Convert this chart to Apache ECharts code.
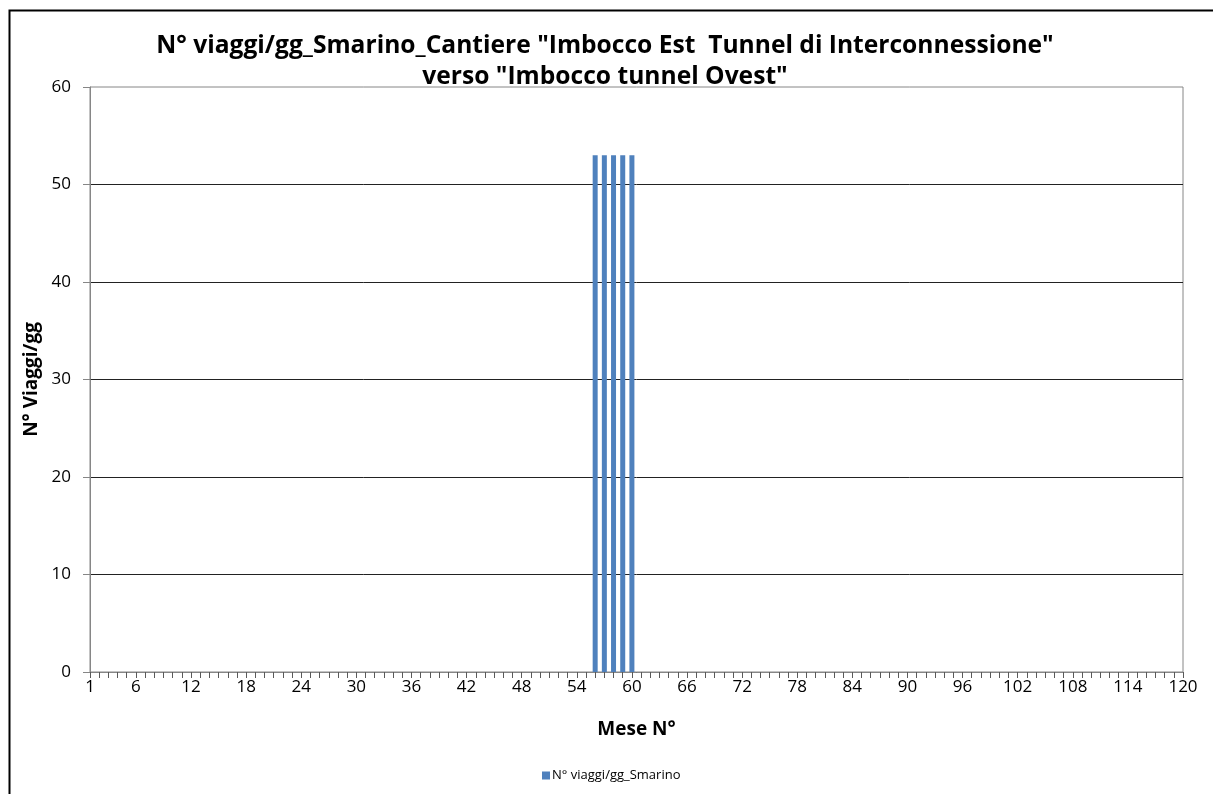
<!DOCTYPE html>
<html>
<head>
<meta charset="utf-8">
<script src="https://cdn.jsdelivr.net/npm/echarts@6/dist/echarts.min.js"></script>
<style>
  html, body { margin: 0; padding: 0; background: #fff; }
  #chart { width: 1213px; height: 794px; }
</style>
</head>
<body>
<div id="chart"></div>
<script>
// Months 1..120
const months = [];
for (let m = 1; m <= 120; m++) months.push(String(m));

// Daily trips (spoil removal) per month: active only in months 56-60
const activeMonths = [56, 57, 58, 59, 60];
const activeTrips = [53, 53, 53, 53, 53];

const trips = months.map(function (m) {
  const i = activeMonths.indexOf(Number(m));
  return i >= 0 ? activeTrips[i] : 0;
});

const titleLines = [
  'N° viaggi/gg_Smarino_Cantiere "Imbocco Est  Tunnel di Interconnessione"',
  'verso "Imbocco tunnel Ovest"'
];
const seriesName = 'N° viaggi/gg_Smarino';
const yAxisTitle = 'N° Viaggi/gg';
const xAxisTitle = 'Mese N°';

const FONT = '"Open Sans", "Noto Sans", sans-serif';

const chart = echarts.init(document.getElementById('chart'), null, { renderer: 'canvas' });

chart.setOption({
  animation: false,
  backgroundColor: '#fff',
  textStyle: { fontFamily: FONT },
  title: {
    text: titleLines.join('\n'),
    left: 600,
    top: 25,
    textAlign: 'center',
    textStyle: {
      fontFamily: FONT,
      fontWeight: 'bold',
      fontSize: 24.6,
      lineHeight: 31,
      color: '#000'
    }
  },
  graphic: [
    {
      type: 'rect',
      left: 7,
      top: 8,
      shape: { width: 1400, height: 900 },
      style: { fill: 'none', stroke: '#000', lineWidth: 2 },
      silent: true
    }
  ],
  legend: {
    data: [seriesName],
    left: 537,
    top: 764,
    icon: 'rect',
    itemWidth: 8,
    itemHeight: 8,
    itemGap: 4,
    textStyle: { fontFamily: FONT, fontSize: 13, color: '#000', padding: [0, 0, 0, -3] }
  },
  grid: {
    left: 90,
    right: 30,
    top: 87,
    bottom: 122,
    show: true,
    borderColor: '#868686',
    borderWidth: 1
  },
  xAxis: {
    type: 'category',
    data: months,
    boundaryGap: false,
    name: xAxisTitle,
    nameLocation: 'middle',
    nameGap: 48,
    nameTextStyle: { fontFamily: FONT, fontWeight: 'bold', fontSize: 19, color: '#000' },
    axisLine: { show: true, lineStyle: { color: '#868686', width: 1 } },
    axisTick: {
      show: true,
      interval: 0,
      length: 6,
      lineStyle: { color: '#595959' }
    },
    axisLabel: {
      interval: function (index) { return index === 0 || (index + 1) % 6 === 0; },
      fontFamily: FONT,
      fontSize: 17,
      color: '#000',
      margin: 7
    },
    splitLine: { show: false }
  },
  yAxis: {
    type: 'value',
    min: 0,
    max: 60,
    interval: 10,
    name: yAxisTitle,
    nameLocation: 'middle',
    nameGap: 48,
    nameTextStyle: { fontFamily: FONT, fontWeight: 'bold', fontSize: 19, color: '#000' },
    axisLine: { show: true, lineStyle: { color: '#868686', width: 1 } },
    axisTick: { show: true, length: 7, lineStyle: { color: '#868686' } },
    axisLabel: { fontFamily: FONT, fontSize: 17, color: '#000', margin: 19 },
    splitLine: { show: true, showMaxLine: false, lineStyle: { color: '#222', width: 1 } }
  },
  series: [
    {
      name: seriesName,
      type: 'bar',
      data: trips,
      barWidth: 5,
      itemStyle: { color: '#4F81BD' }
    }
  ]
});
</script>
</body>
</html>
